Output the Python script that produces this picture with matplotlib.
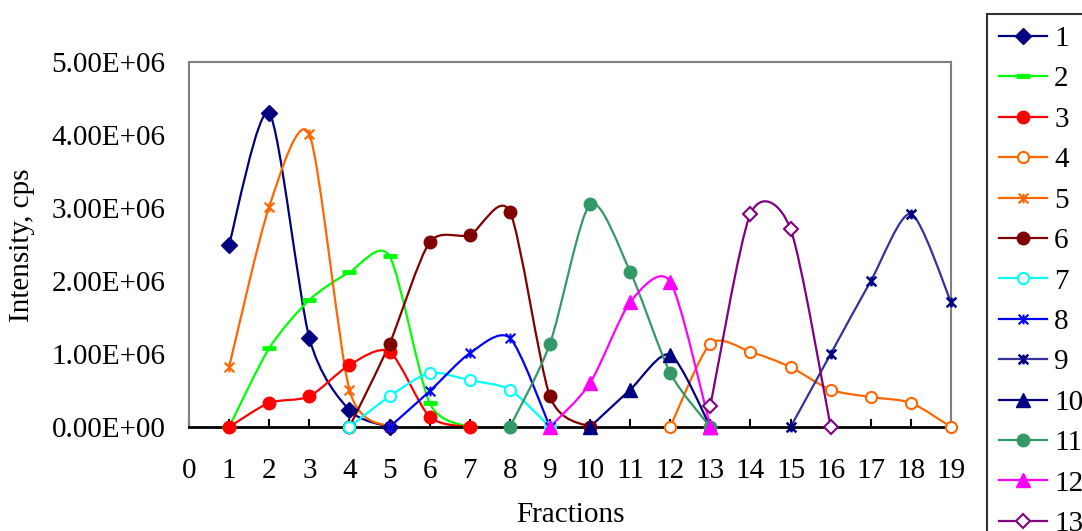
import numpy as np
import matplotlib
matplotlib.use("Agg")
import matplotlib.pyplot as plt
from matplotlib.path import Path
from matplotlib.patches import PathPatch
from matplotlib.lines import Line2D

# ---- data ----
labels = ["1", "2", "3", "4", "5", "6", "7", "8", "9", "10", "11", "12", "13"]
x1 = [1, 2, 3, 4, 5];            y1 = [2.50e6, 4.30e6, 1.22e6, 0.23e6, 0.0]
x2 = [1, 2, 3, 4, 5, 6, 7];      y2 = [0.0, 1.08e6, 1.74e6, 2.12e6, 2.34e6, 0.33e6, 0.0]
x3 = [1, 2, 3, 4, 5, 6, 7];      y3 = [0.0, 0.33e6, 0.42e6, 0.85e6, 1.03e6, 0.14e6, 0.0]
x4 = [12, 13, 14, 15, 16, 17, 18, 19]
y4 = [0.0, 1.14e6, 1.03e6, 0.82e6, 0.51e6, 0.41e6, 0.33e6, 0.0]
x5 = [1, 2, 3, 4, 5];            y5 = [0.82e6, 3.02e6, 4.01e6, 0.51e6, 0.0]
x6 = [4, 5, 6, 7, 8, 9, 10];     y6 = [0.0, 1.14e6, 2.53e6, 2.63e6, 2.95e6, 0.42e6, 0.0]
x7 = [4, 5, 6, 7, 8, 9];         y7 = [0.0, 0.42e6, 0.74e6, 0.64e6, 0.51e6, 0.0]
x8 = [5, 6, 7, 8, 9];            y8 = [0.0, 0.49e6, 1.01e6, 1.22e6, 0.0]
x9 = [15, 16, 17, 18, 19];       y9 = [0.0, 1.00e6, 2.00e6, 2.92e6, 1.71e6]
x10 = [10, 11, 12, 13];          y10 = [0.0, 0.51e6, 0.99e6, 0.0]
x11 = [8, 9, 10, 11, 12, 13];    y11 = [0.0, 1.14e6, 3.05e6, 2.13e6, 0.74e6, 0.0]
x12 = [9, 10, 11, 12, 13];       y12 = [0.0, 0.60e6, 1.71e6, 1.99e6, 0.0]
x13 = [13, 14, 15, 16];          y13 = [0.29e6, 2.92e6, 2.71e6, 0.0]

xs = [x1, x2, x3, x4, x5, x6, x7, x8, x9, x10, x11, x12, x13]
ys = [y1, y2, y3, y4, y5, y6, y7, y8, y9, y10, y11, y12, y13]

xticks = list(range(0, 20))
yticks = [0, 1e6, 2e6, 3e6, 4e6, 5e6]
yticklabels = ["0.00E+00", "1.00E+06", "2.00E+06", "3.00E+06", "4.00E+06", "5.00E+06"]

# ---- styles ----
star = Path([(-1, -1), (1, 1), (-1, 1), (1, -1), (0, -1), (0, 1)],
            [Path.MOVETO, Path.LINETO, Path.MOVETO, Path.LINETO, Path.MOVETO, Path.LINETO])
styles = [
    dict(color="#000080", marker="D", ms=8, mfc="#000080"),
    dict(color="#00FF00", marker="_", ms=10, mfc="#00FF00", mew=3.5),
    dict(color="#FF0000", marker="o", ms=9, mfc="#FF0000"),
    dict(color="#FF6600", marker="o", ms=8, mfc="white", mew=1.5),
    dict(color="#FF6600", marker=star, ms=7, mfc="#FF6600", mew=1.5),
    dict(color="#800000", marker="o", ms=9, mfc="#800000"),
    dict(color="#00FFFF", marker="o", ms=8, mfc="white", mew=1.5),
    dict(color="#0000FF", marker=star, ms=7, mfc="#0000FF", mew=1.5),
    dict(color="#333399", marker=star, ms=7, mfc="#000080", mec="#000080", mew=1.8),
    dict(color="#000080", marker="^", ms=10, mfc="#000080"),
    dict(color="#339966", marker="o", ms=9, mfc="#339966"),
    dict(color="#FF00FF", marker="^", ms=10, mfc="#FF00FF"),
    dict(color="#800080", marker="D", ms=7, mfc="white", mew=1.5),
]

plt.rcParams['font.family'] = ['Liberation Serif', 'DejaVu Serif']
FS = 21
TENSION = 0.13

fig = plt.figure(figsize=(10.82, 5.31), dpi=100)
ax = fig.add_axes([189/1082, 1-427/531, (951-189)/1082, (427-62)/531])


def smooth_path(x, y):
    P = np.column_stack([x, y]).astype(float)
    n = len(P)
    verts = [P[0]]
    codes = [Path.MOVETO]
    for i in range(n - 1):
        p0 = P[i - 1] if i > 0 else P[i]
        p1 = P[i]
        p2 = P[i + 1]
        p3 = P[i + 2] if i + 2 < n else P[i + 1]
        c1 = p1 + (p2 - p0) * TENSION
        c2 = p2 - (p3 - p1) * TENSION
        verts += [c1, c2, p2]
        codes += [Path.CURVE4] * 3
    return Path(verts, codes)


handles = []
for x, y, st, lab in zip(xs, ys, styles, labels):
    c = st["color"]
    patch = PathPatch(smooth_path(x, y), facecolor="none", edgecolor=c, lw=1.6, zorder=2)
    ax.add_patch(patch)
    mec = st.get("mec", c)
    ax.plot(x, y, linestyle="none", marker=st["marker"], ms=st["ms"], mfc=st["mfc"],
            mec=mec, mew=st.get("mew", 1.0), zorder=3, clip_on=False)
    handles.append(Line2D([], [], color=c, lw=1.6, marker=st["marker"], ms=st["ms"],
                          mfc=st["mfc"], mec=mec, mew=st.get("mew", 1.0)))

ax.set_xlim(0, 19)
ax.set_ylim(0, 5e6)
ax.set_xticks(xticks)
ax.set_xticklabels([str(t) for t in xticks], fontsize=FS)
ax.set_yticks(yticks)
ax.set_yticklabels(yticklabels, fontsize=FS)
ax.tick_params(axis="x", direction="in", length=6, width=1.5, color="black", pad=22)
ax.tick_params(axis="y", length=0, pad=17)
for s in ["top", "right", "left"]:
    ax.spines[s].set_color("#808080")
    ax.spines[s].set_linewidth(1.5)
ax.spines["bottom"].set_color("black")
ax.spines["bottom"].set_linewidth(2)

ax.set_xlabel("Fractions", fontsize=FS, labelpad=13)
fig.text(22/1082, 1-245/531, "Intensity, cps", rotation=90, fontsize=FS,
         ha="center", va="center")

leg = fig.legend(handles, labels, loc="upper left",
                 bbox_to_anchor=(987/1082, 1-14/531), bbox_transform=fig.transFigure,
                 borderaxespad=0, fontsize=FS, frameon=True, fancybox=False,
                 edgecolor="black", handlelength=1.65, handletextpad=0.25,
                 labelspacing=0.48, borderpad=0.4)
leg.get_frame().set_linewidth(1.5)

fig.savefig("out.png", dpi=100)
